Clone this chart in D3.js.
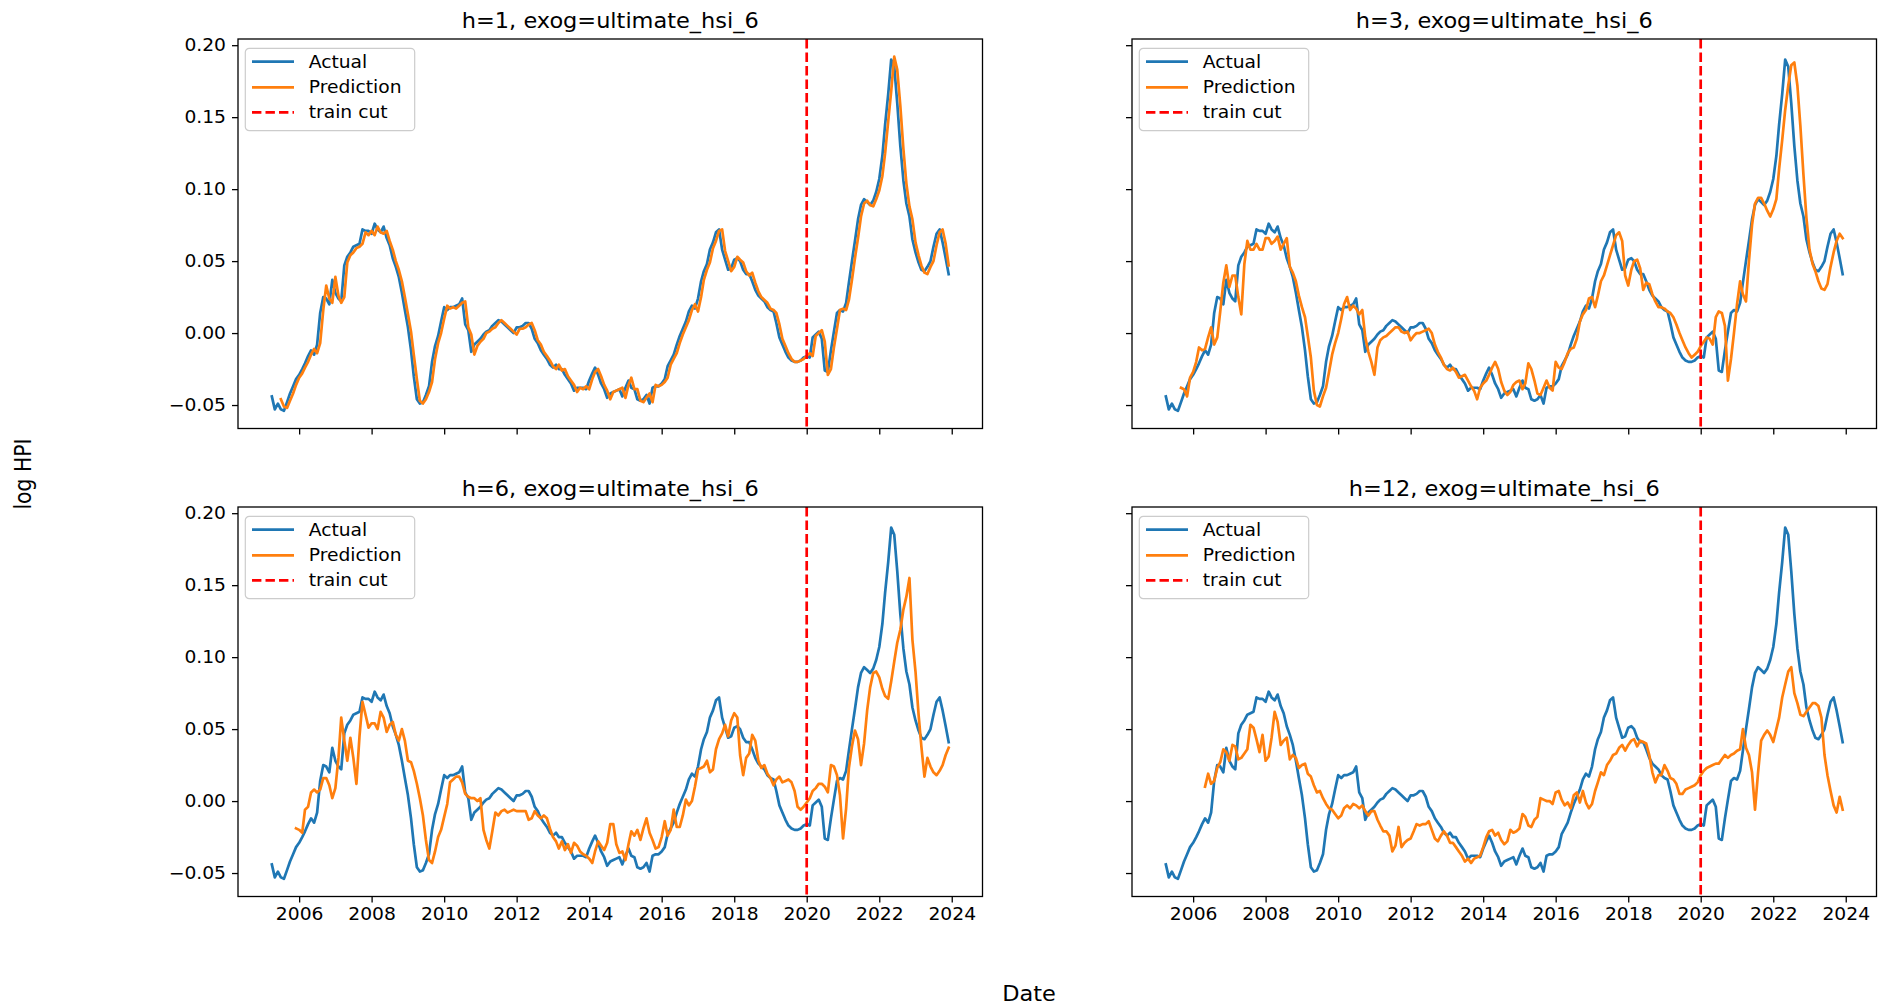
<!DOCTYPE html>
<html>
<head>
<meta charset="utf-8">
<script src="https://cdn.jsdelivr.net/npm/d3@7"></script>
<style>
  body { margin: 0; background: #ffffff; }
  svg { display: block; font-family: "DejaVu Sans", sans-serif; }
</style>
</head>
<body>
<svg id="chart" width="1892" height="1008"></svg>
<script>
// ---------------- data ----------------
const exogName = "ultimate_hsi_6";
const horizons = [1, 3, 6, 12];
const trainCut = "2020-01";

// monthly log HPI, first month below
const actualStart = "2005-04";
const actual = [
  -0.044, -0.053, -0.049, -0.053, -0.054, -0.048, -0.042, -0.037, -0.032, -0.029,
  -0.025, -0.021, -0.016, -0.012, -0.015, -0.008, 0.014, 0.025, 0.024, 0.020,
  0.037, 0.028, 0.024, 0.022, 0.047, 0.053, 0.056, 0.060, 0.061, 0.062,
  0.072, 0.071, 0.071, 0.069, 0.076, 0.072, 0.070, 0.074, 0.066, 0.061,
  0.052, 0.046, 0.039, 0.028, 0.016, 0.004, -0.012, -0.030, -0.046, -0.049,
  -0.048, -0.043, -0.037, -0.020, -0.009, -0.002, 0.008, 0.018, 0.016, 0.018,
  0.018, 0.019, 0.020, 0.024, 0.006, 0.002, -0.013, -0.008, -0.006, -0.004,
  -0.001, 0.001, 0.002, 0.005, 0.007, 0.009, 0.008, 0.006, 0.004, 0.002,
  0.000, 0.004, 0.004, 0.005, 0.007, 0.007, 0.003, -0.004, -0.007, -0.012,
  -0.015, -0.018, -0.022, -0.024, -0.022, -0.025, -0.025, -0.029, -0.032, -0.035,
  -0.040, -0.038, -0.038, -0.038, -0.039, -0.033, -0.028, -0.024, -0.029, -0.035,
  -0.039, -0.045, -0.042, -0.041, -0.040, -0.039, -0.044, -0.038, -0.033, -0.038,
  -0.039, -0.046, -0.047, -0.046, -0.043, -0.049, -0.038, -0.037, -0.037, -0.035,
  -0.032, -0.023, -0.019, -0.015, -0.008, -0.002, 0.003, 0.008, 0.015, 0.019,
  0.017, 0.024, 0.036, 0.043, 0.048, 0.058, 0.063, 0.070, 0.072, 0.058,
  0.051, 0.044, 0.045, 0.051, 0.052, 0.050, 0.044, 0.041, 0.041, 0.036,
  0.030, 0.026, 0.024, 0.022, 0.018, 0.016, 0.015, 0.007, -0.003, -0.008,
  -0.013, -0.017, -0.019, -0.020, -0.020, -0.019, -0.017, -0.016, -0.017, -0.003,
  -0.001, 0.001, -0.004, -0.026, -0.027, -0.012, 0.001, 0.014, 0.016, 0.015,
  0.021, 0.035, 0.050, 0.064, 0.079, 0.089, 0.093, 0.091, 0.089, 0.092,
  0.098, 0.107, 0.123, 0.145, 0.166, 0.190, 0.185, 0.160, 0.130, 0.106,
  0.090, 0.081, 0.065, 0.056, 0.049, 0.044, 0.043, 0.046, 0.050, 0.060,
  0.069, 0.072, 0.063, 0.052, 0.041
];

// predictions for each horizon, each with its own first month
const predH1Start = "2005-07";
const predH1 = [
  -0.046, -0.051, -0.052, -0.047, -0.042, -0.036, -0.031, -0.028, -0.024, -0.020,
  -0.015, -0.011, -0.014, -0.007, 0.016, 0.033, 0.024, 0.021, 0.039, 0.026,
  0.021, 0.025, 0.049, 0.054, 0.056, 0.059, 0.060, 0.062, 0.070, 0.068,
  0.071, 0.068, 0.074, 0.070, 0.069, 0.071, 0.064, 0.058, 0.050, 0.044,
  0.036, 0.025, 0.013, 0.001, -0.015, -0.032, -0.047, -0.049, -0.046, -0.041,
  -0.034, -0.018, -0.007, 0.000, 0.010, 0.019, 0.017, 0.018, 0.017, 0.019,
  0.021, 0.022, 0.004, -0.001, -0.015, -0.009, -0.006, -0.004, 0.000, 0.001,
  0.003, 0.004, 0.007, 0.009, 0.007, 0.005, 0.003, 0.001, -0.001, 0.003,
  0.003, 0.004, 0.006, 0.007, 0.002, -0.005, -0.008, -0.013, -0.016, -0.019,
  -0.023, -0.025, -0.022, -0.026, -0.025, -0.030, -0.033, -0.036, -0.041, -0.038,
  -0.039, -0.037, -0.039, -0.032, -0.027, -0.025, -0.030, -0.036, -0.040, -0.046,
  -0.041, -0.040, -0.039, -0.038, -0.045, -0.036, -0.031, -0.039, -0.039, -0.047,
  -0.048, -0.045, -0.042, -0.048, -0.036, -0.037, -0.036, -0.034, -0.031, -0.022,
  -0.018, -0.014, -0.007, -0.001, 0.004, 0.009, 0.016, 0.020, 0.015, 0.025,
  0.037, 0.044, 0.049, 0.059, 0.064, 0.071, 0.072, 0.057, 0.050, 0.043,
  0.046, 0.053, 0.051, 0.049, 0.043, 0.040, 0.042, 0.035, 0.029, 0.025,
  0.023, 0.021, 0.017, 0.016, 0.014, 0.006, -0.004, -0.009, -0.014, -0.018,
  -0.020, -0.020, -0.019, -0.018, -0.016, -0.014, -0.016, -0.002, 0.000, 0.002,
  -0.006, -0.029, -0.025, -0.010, 0.003, 0.016, 0.017, 0.016, 0.023, 0.037,
  0.052, 0.066, 0.081, 0.090, 0.092, 0.089, 0.088, 0.093, 0.099, 0.109,
  0.125, 0.147, 0.168, 0.192, 0.183, 0.158, 0.128, 0.104, 0.088, 0.079,
  0.063, 0.054, 0.047, 0.042, 0.041, 0.046, 0.050, 0.061, 0.070, 0.072,
  0.062, 0.047
];

const predH3Start = "2005-09";
const predH3 = [
  -0.038, -0.039, -0.044, -0.031, -0.027, -0.020, -0.010, -0.012, -0.011, -0.003,
  0.004, -0.008, -0.003, 0.015, 0.035, 0.047, 0.032, 0.040, 0.040, 0.025,
  0.013, 0.048, 0.064, 0.058, 0.058, 0.062, 0.058, 0.058, 0.066, 0.066,
  0.062, 0.064, 0.067, 0.058, 0.062, 0.066, 0.046, 0.042, 0.036, 0.026,
  0.018, 0.011, -0.002, -0.017, -0.040, -0.050, -0.051, -0.044, -0.038, -0.027,
  -0.015, -0.007, 0.000, 0.010, 0.020, 0.025, 0.016, 0.019, 0.017, 0.013,
  0.016, -0.003, -0.013, -0.020, -0.029, -0.010, -0.005, -0.003, -0.002, 0.000,
  0.002, 0.004, 0.004, 0.001, 0.000, 0.001, -0.005, -0.002, 0.000, 0.000,
  0.001, 0.002, 0.003, 0.000, -0.008, -0.013, -0.017, -0.022, -0.025, -0.026,
  -0.024, -0.027, -0.031, -0.030, -0.029, -0.033, -0.037, -0.040, -0.046, -0.038,
  -0.035, -0.033, -0.029, -0.024, -0.020, -0.025, -0.034, -0.040, -0.043, -0.041,
  -0.036, -0.034, -0.033, -0.039, -0.035, -0.021, -0.025, -0.033, -0.042, -0.043,
  -0.038, -0.033, -0.038, -0.040, -0.020, -0.024, -0.025, -0.020, -0.014, -0.011,
  -0.010, -0.004, 0.008, 0.013, 0.016, 0.024, 0.025, 0.018, 0.026, 0.036,
  0.040, 0.047, 0.054, 0.061, 0.068, 0.070, 0.064, 0.040, 0.033, 0.044,
  0.050, 0.051, 0.045, 0.030, 0.035, 0.034, 0.027, 0.022, 0.018, 0.018,
  0.017, 0.015, 0.014, 0.011, 0.006, 0.000, -0.005, -0.010, -0.014, -0.017,
  -0.015, -0.013, -0.009, -0.006, -0.003, -0.004, -0.008, 0.011, 0.015, 0.014,
  0.005, -0.033, -0.018, 0.000, 0.020, 0.036, 0.027, 0.022, 0.050, 0.075,
  0.090, 0.094, 0.094, 0.090, 0.085, 0.081, 0.086, 0.093, 0.114, 0.134,
  0.155, 0.172, 0.186, 0.188, 0.172, 0.144, 0.110, 0.080, 0.058, 0.048,
  0.043, 0.036, 0.031, 0.030, 0.034, 0.046, 0.056, 0.064, 0.069, 0.066
];

const predH6Start = "2005-12";
const predH6 = [
  -0.019, -0.020, -0.022, -0.006, -0.004, 0.006, 0.008, 0.006, 0.008, 0.016,
  0.016, 0.011, 0.002, 0.009, 0.030, 0.058, 0.042, 0.028, 0.044, 0.030,
  0.012, 0.045, 0.069, 0.060, 0.051, 0.054, 0.054, 0.050, 0.062, 0.058,
  0.048, 0.053, 0.055, 0.046, 0.042, 0.050, 0.042, 0.028, 0.027, 0.021,
  0.012, 0.002, -0.010, -0.027, -0.041, -0.043, -0.035, -0.025, -0.020, -0.011,
  -0.002, 0.013, 0.015, 0.017, 0.017, 0.013, 0.005, 0.003, 0.002, 0.002,
  0.000, 0.002, -0.020, -0.027, -0.033, -0.021, -0.008, -0.010, -0.007, -0.006,
  -0.008, -0.007, -0.006, -0.007, -0.007, -0.007, -0.007, -0.013, -0.012, -0.007,
  -0.010, -0.012, -0.010, -0.012, -0.019, -0.025, -0.028, -0.033, -0.028, -0.034,
  -0.030, -0.036, -0.029, -0.031, -0.035, -0.037, -0.038, -0.040, -0.043, -0.035,
  -0.028, -0.031, -0.034, -0.029, -0.016, -0.016, -0.030, -0.036, -0.035, -0.041,
  -0.030, -0.021, -0.024, -0.020, -0.027, -0.019, -0.012, -0.022, -0.027, -0.033,
  -0.032, -0.025, -0.014, -0.024, -0.020, -0.006, -0.018, -0.018, -0.010, 0.001,
  -0.003, 0.000, 0.010, 0.022, 0.023, 0.024, 0.028, 0.020, 0.022, 0.036,
  0.043, 0.047, 0.053, 0.045, 0.056, 0.061, 0.058, 0.032, 0.018, 0.030,
  0.033, 0.046, 0.042, 0.028, 0.023, 0.025, 0.019, 0.016, 0.011, 0.015,
  0.017, 0.013, 0.014, 0.015, 0.013, 0.007, -0.004, -0.006, -0.004, -0.001,
  0.002, 0.007, 0.009, 0.012, 0.012, 0.010, 0.006, 0.025, 0.024, 0.018,
  0.004, -0.026, -0.005, 0.023, 0.038, 0.049, 0.043, 0.025, 0.040, 0.063,
  0.079, 0.089, 0.090, 0.086, 0.078, 0.073, 0.071, 0.083, 0.097, 0.110,
  0.119, 0.133, 0.142, 0.155, 0.112, 0.090, 0.060, 0.038, 0.017, 0.030,
  0.024, 0.020, 0.018, 0.021, 0.025, 0.032, 0.037
];

const predH12Start = "2006-05";
const predH12 = [
  0.010, 0.019, 0.012, 0.014, 0.023, 0.027, 0.036, 0.034, 0.028, 0.039,
  0.038, 0.029, 0.030, 0.033, 0.036, 0.053, 0.051, 0.043, 0.034, 0.046,
  0.028, 0.031, 0.044, 0.062, 0.055, 0.039, 0.042, 0.044, 0.029, 0.032,
  0.030, 0.023, 0.025, 0.026, 0.019, 0.017, 0.011, 0.006, 0.007, 0.002,
  -0.002, -0.005, -0.006, -0.009, -0.012, -0.010, -0.005, -0.003, -0.005, -0.002,
  -0.003, -0.005, -0.003, -0.007, -0.010, -0.007, -0.007, -0.013, -0.017, -0.021,
  -0.021, -0.024, -0.035, -0.031, -0.018, -0.032, -0.029, -0.027, -0.026, -0.021,
  -0.016, -0.017, -0.016, -0.016, -0.014, -0.020, -0.026, -0.028, -0.024, -0.021,
  -0.024, -0.029, -0.029, -0.032, -0.035, -0.038, -0.042, -0.040, -0.043, -0.040,
  -0.039, -0.038, -0.032, -0.025, -0.021, -0.020, -0.024, -0.022, -0.027, -0.030,
  -0.028, -0.020, -0.022, -0.021, -0.019, -0.009, -0.011, -0.017, -0.018, -0.013,
  -0.011, 0.002, 0.001, 0.000, 0.000, -0.002, 0.006, 0.007, 0.001, -0.003,
  -0.001, -0.005, 0.004, 0.006, -0.001, 0.007, -0.001, -0.005, -0.002, 0.007,
  0.013, 0.020, 0.018, 0.025, 0.028, 0.032, 0.033, 0.037, 0.039, 0.035,
  0.039, 0.042, 0.043, 0.038, 0.042, 0.041, 0.040, 0.032, 0.020, 0.013,
  0.018, 0.018, 0.025, 0.021, 0.016, 0.015, 0.012, 0.005, 0.005, 0.008,
  0.009, 0.010, 0.011, 0.013, 0.018, 0.021, 0.023, 0.024, 0.025, 0.026,
  0.026, 0.029, 0.032, 0.030, 0.032, 0.033, 0.035, 0.036, 0.050, 0.037,
  0.032, 0.020, -0.006, 0.020, 0.042, 0.046, 0.049, 0.046, 0.041, 0.050,
  0.058, 0.072, 0.081, 0.090, 0.093, 0.075, 0.068, 0.060, 0.059, 0.062,
  0.065, 0.068, 0.068, 0.066, 0.058, 0.032, 0.018, 0.007, -0.003, -0.008,
  0.003, -0.006
];

const yTickValues = [-0.05, 0.00, 0.05, 0.10, 0.15, 0.20];
const xTickYears = [2006, 2008, 2010, 2012, 2014, 2016, 2018, 2020, 2022, 2024];
const legendLabels = ["Actual", "Prediction", "train cut"];
const xAxisLabel = "Date";
const yAxisLabel = "log HPI";

// ---------------- helpers ----------------
const parseMonth = d3.timeParse("%Y-%m");
function toSeries(startStr, values) {
  const start = parseMonth(startStr);
  return values.map((v, i) => ({ date: d3.timeMonth.offset(start, i), value: v }));
}

const actualSeries = toSeries(actualStart, actual);
const predSeries = {
  1: toSeries(predH1Start, predH1),
  3: toSeries(predH3Start, predH3),
  6: toSeries(predH6Start, predH6),
  12: toSeries(predH12Start, predH12)
};
const cutDate = parseMonth(trainCut);

// ---------------- styling ----------------
const COLOR_ACTUAL = "#1f77b4";
const COLOR_PRED = "#ff7f0e";
const COLOR_CUT = "#ff0000";
const TEXT_SX = 1.1;          // glyphs are slightly wide in this figure
const FS_TICK = 17;
const FS_TITLE = 20.4;
const LINE_W = 2.7;

const svg = d3.select("#chart");

// shared scales (sharex / sharey), 5% margins like matplotlib autoscale
const allDates = actualSeries.map(d => d.date)
  .concat(...horizons.map(h => predSeries[h].map(d => d.date)));
const allValues = actual.concat(predH1, predH3, predH6, predH12);
const [d0, d1] = d3.extent(allDates);
const dSpan = d1 - d0;
const xDomain = [new Date(+d0 - 0.05 * dSpan), new Date(+d1 + 0.05 * dSpan)];
const [v0, v1] = d3.extent(allValues);
const vSpan = v1 - v0;
const yDomain = [v0 - 0.05 * vSpan, v1 + 0.05 * vSpan];

const panelBoxes = [
  { left: 238, top: 39 },
  { left: 1132, top: 39 },
  { left: 238, top: 507 },
  { left: 1132, top: 507 }
];
const PW = 744.5, PH = 389.5;

const x = d3.scaleTime().domain(xDomain).range([0, PW]);
const y = d3.scaleLinear().domain(yDomain).range([PH, 0]);

const line = d3.line().x(d => x(d.date)).y(d => y(d.value));
const fmtY = d3.format(".2f");

function stretchText(sel) {
  sel.each(function () {
    const t = d3.select(this);
    const tx = +t.attr("x") || 0;
    t.attr("x", tx / TEXT_SX).attr("transform", `scale(${TEXT_SX},1)`);
  });
}

horizons.forEach((h, k) => {
  const box = panelBoxes[k];
  const showX = k >= 2;
  const showY = k % 2 === 0;
  const g = svg.append("g").attr("transform", `translate(${box.left},${box.top})`);

  const clipId = `clip-${k}`;
  g.append("clipPath").attr("id", clipId)
    .append("rect").attr("width", PW).attr("height", PH);

  // x axis
  const xAxis = d3.axisBottom(x)
    .tickValues(xTickYears.map(yr => new Date(yr, 0, 1)))
    .tickFormat(showX ? d3.timeFormat("%Y") : () => "")
    .tickSize(6).tickPadding(5);
  const gx = g.append("g").attr("transform", `translate(0,${PH})`).call(xAxis);
  gx.select(".domain").remove();
  gx.selectAll("line").attr("stroke", "#000").attr("stroke-width", 1.3);
  gx.selectAll("text").attr("font-size", FS_TICK).attr("fill", "#000")
    .attr("font-family", "DejaVu Sans").call(stretchText);

  // y axis
  const yAxis = d3.axisLeft(y)
    .tickValues(yTickValues)
    .tickFormat(showY ? (d => fmtY(d)) : () => "")
    .tickSize(6).tickPadding(6);
  const gy = g.append("g").call(yAxis);
  gy.select(".domain").remove();
  gy.selectAll("line").attr("stroke", "#000").attr("stroke-width", 1.3);
  gy.selectAll("text").attr("font-size", FS_TICK).attr("fill", "#000")
    .attr("font-family", "DejaVu Sans").call(stretchText);

  // series
  const plot = g.append("g").attr("clip-path", `url(#${clipId})`);
  plot.append("path").datum(actualSeries)
    .attr("d", line).attr("fill", "none")
    .attr("stroke", COLOR_ACTUAL).attr("stroke-width", LINE_W)
    .attr("stroke-linejoin", "round").attr("stroke-linecap", "square");
  plot.append("path").datum(predSeries[h])
    .attr("d", line).attr("fill", "none")
    .attr("stroke", COLOR_PRED).attr("stroke-width", LINE_W)
    .attr("stroke-linejoin", "round").attr("stroke-linecap", "square");
  plot.append("line")
    .attr("x1", x(cutDate)).attr("x2", x(cutDate))
    .attr("y1", 0).attr("y2", PH)
    .attr("stroke", COLOR_CUT).attr("stroke-width", LINE_W)
    .attr("stroke-dasharray", "9.4,4.1");

  // frame
  g.append("rect").attr("width", PW).attr("height", PH)
    .attr("fill", "none").attr("stroke", "#000").attr("stroke-width", 1.3);

  // title
  g.append("g").attr("transform", `translate(${PW / 2},-10.7) scale(${TEXT_SX},1)`)
    .append("text").attr("text-anchor", "middle")
    .attr("font-size", FS_TITLE).attr("fill", "#000")
    .text(`h=${h}, exog=${exogName}`);

  // legend
  const lg = g.append("g").attr("transform", "translate(7.3,9.3)");
  lg.append("rect").attr("width", 169.4).attr("height", 82.4).attr("rx", 4)
    .attr("fill", "#ffffff").attr("fill-opacity", 0.8)
    .attr("stroke", "#cccccc").attr("stroke-width", 1.2);
  const rowY = [13.4, 39, 64];
  const rowStyle = [
    { color: COLOR_ACTUAL, dash: null },
    { color: COLOR_PRED, dash: null },
    { color: COLOR_CUT, dash: "9.4,4.1" }
  ];
  legendLabels.forEach((lab, j) => {
    lg.append("line").attr("x1", 6.7).attr("x2", 48.7)
      .attr("y1", rowY[j]).attr("y2", rowY[j])
      .attr("stroke", rowStyle[j].color).attr("stroke-width", LINE_W)
      .attr("stroke-dasharray", rowStyle[j].dash);
    lg.append("g").attr("transform", `translate(63.4,${rowY[j]}) scale(${TEXT_SX},1)`)
      .append("text").attr("dy", "0.36em")
      .attr("font-size", FS_TICK).attr("fill", "#000").text(lab);
  });
});

// figure-level axis labels
svg.append("g").attr("transform", `translate(1029,1001) scale(${TEXT_SX},1)`)
  .append("text").attr("text-anchor", "middle")
  .attr("font-size", FS_TITLE).attr("fill", "#000").text(xAxisLabel);
svg.append("g").attr("transform", `translate(31,474) scale(${TEXT_SX},1) rotate(-90)`)
  .append("text").attr("text-anchor", "middle")
  .attr("font-size", FS_TITLE).attr("fill", "#000").text(yAxisLabel);
</script>
</body>
</html>
